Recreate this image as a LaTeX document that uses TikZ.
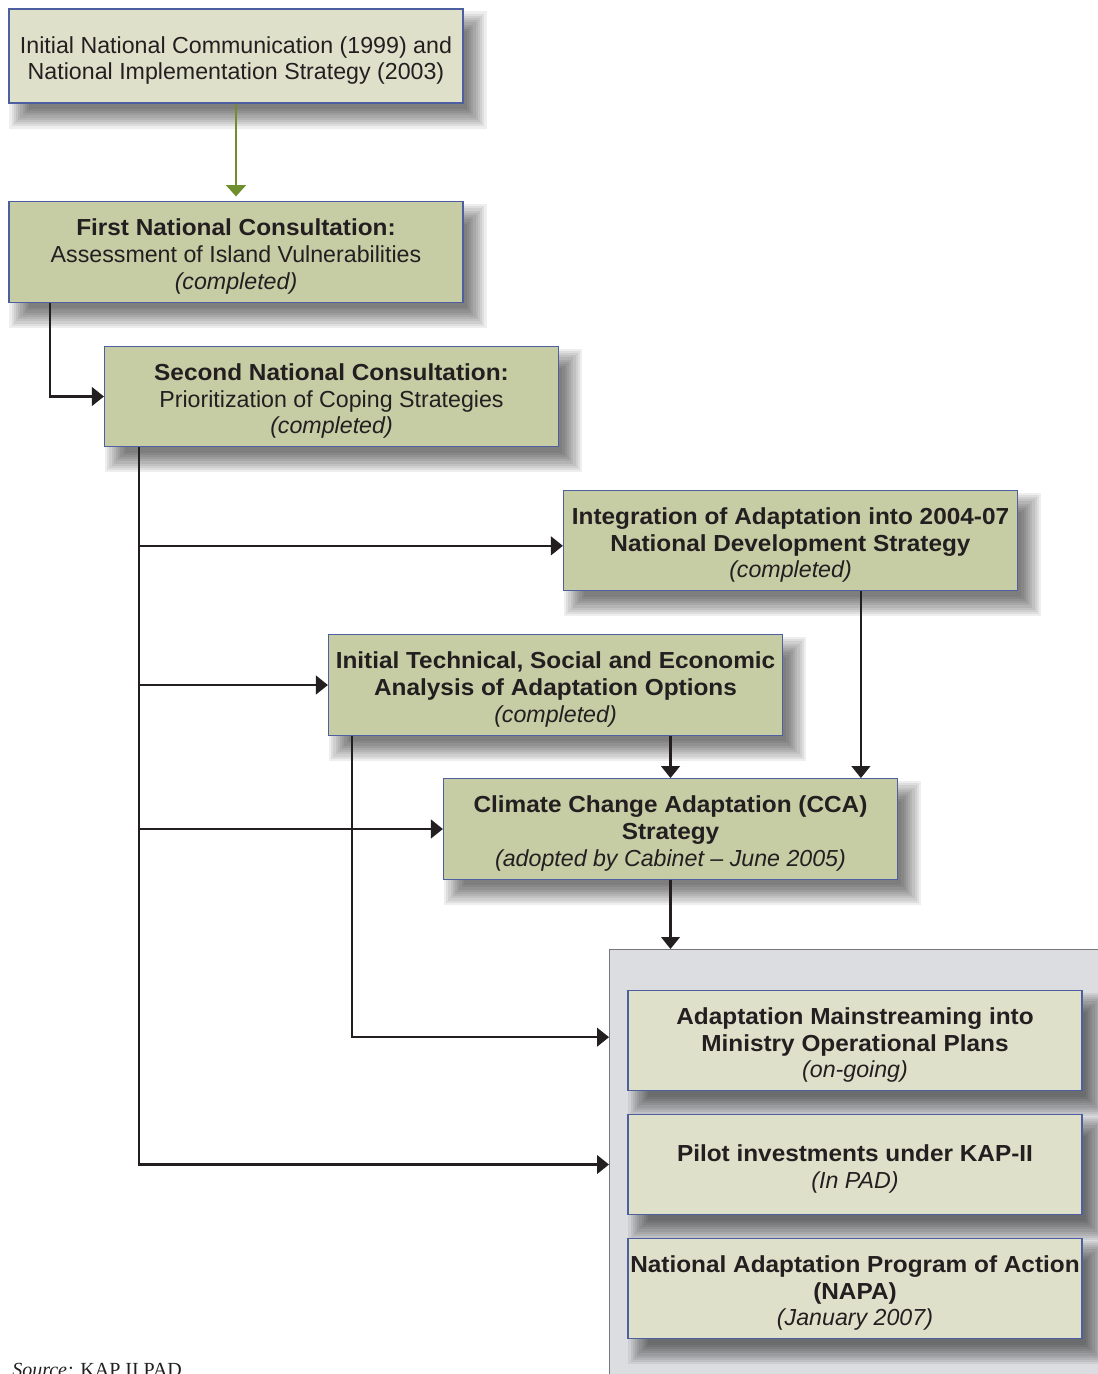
\documentclass[tikz,border=0pt]{standalone}
\usepackage{fontspec}
\setmainfont{Liberation Sans}[BoldFeatures={FakeStretch=1.05}]
\newfontfamily\srcfont{Liberation Serif}
\usetikzlibrary{arrows.meta,calc}
\definecolor{lightfill}{HTML}{DFE0CA}
\definecolor{darkfill}{HTML}{C6CCA4}
\definecolor{boxline}{HTML}{4D5FA0}
\definecolor{panelfill}{HTML}{DCDDE0}
\definecolor{panelline}{HTML}{777777}
\definecolor{greenline}{HTML}{6F8F2F}
\definecolor{inkc}{HTML}{231F20}
\pgfdeclarelayer{bottomlayer}
\pgfdeclarelayer{shadelayer}
\pgfsetlayers{bottomlayer,shadelayer,main}
\newcommand\boxshade[1]{%
  \foreach \k in {0,...,9}{%
    \pgfmathsetmacro\ee{11-2.2*\k}%
    \fill[black,opacity=0.065] ($(#1.south west)+(12-\ee,14+\ee)$) rectangle ($(#1.north east)+(12+\ee,14-\ee)$);}}
\newcommand\fl{\rule{0pt}{19.5pt}}
\tikzset{
  basebox/.style={draw=boxline, line width=0.9pt, minimum width=340.5pt, minimum height=75.5pt,
    inner sep=0pt, align=center, text=inkc, font=\fontsize{17.4}{20}\selectfont},
  lightbox/.style={basebox, fill=lightfill},
  darkbox/.style={basebox, fill=darkfill},
  panelbox/.style={draw=panelline, line width=0.9pt, fill=panelfill, anchor=north west,
    minimum width=400pt, minimum height=340pt, inner sep=0pt},
  blk/.style={draw=inkc, line width=1.6pt, -{Triangle[length=9pt,width=14pt]}},
  grn/.style={draw=greenline, line width=1.5pt, -{Triangle[length=8.5pt,width=15pt]}, shorten >=3.5pt}
}
\begin{document}
\begin{tikzpicture}[x=0.75pt,y=-0.75pt]
\useasboundingbox (0,0) rectangle (1097,1374);
\begin{pgfonlayer}{bottomlayer}
\fill[white] (0,0) rectangle (1097,1374);
\node[panelbox] (panel) at (609,949) {};
\end{pgfonlayer}

\node[lightbox, minimum height=70.5pt] (init) at (236,56)
  {\fl Initial National Communication (1999) and\\National Implementation Strategy (2003)};
\node[darkbox] (first) at (236,252)
  {\fl\textbf{First National Consultation:}\\Assessment of Island Vulnerabilities\\\textit{(completed)}};
\node[darkbox] (second) at (331.5,396.5)
  {\fl\textbf{Second National Consultation:}\\Prioritization of Coping Strategies\\\textit{(completed)}};
\node[darkbox] (integ) at (790.5,540.5)
  {\fl\textbf{Integration of Adaptation into 2004-07}\\\textbf{National Development Strategy}\\\textit{(completed)}};
\node[darkbox] (tech) at (555.5,685)
  {\fl\textbf{Initial Technical, Social and Economic}\\\textbf{Analysis of Adaptation Options}\\\textit{(completed)}};
\node[darkbox] (cca) at (670.5,829)
  {\fl\textbf{Climate Change Adaptation (CCA)}\\\textbf{Strategy}\\\textit{(adopted by Cabinet – June 2005)}};
\node[lightbox] (mainst) at (855,1040.5)
  {\fl\textbf{Adaptation Mainstreaming into}\\\textbf{Ministry Operational Plans}\\\textit{(on-going)}};
\node[lightbox] (pilot) at (855,1164.5)
  {\fl\textbf{Pilot investments under KAP-II}\\\textit{(In PAD)}};
\node[lightbox] (napa) at (855,1288.5)
  {\fl\textbf{National Adaptation Program of Action}\\\textbf{(NAPA)}\\\textit{(January 2007)}};

\begin{pgfonlayer}{shadelayer}
\boxshade{init}\boxshade{first}\boxshade{second}\boxshade{integ}\boxshade{tech}
\boxshade{cca}\boxshade{mainst}\boxshade{pilot}\boxshade{napa}
\end{pgfonlayer}

\node[anchor=base west, inner sep=0pt, text=inkc, font=\srcfont\fontsize{15}{17}\selectfont] (src) at (12,1376)
  {\textit{Source:} KAP II PAD};

% connectors
\draw[grn] (init.south) -- (first.north);
\draw[blk] ($(first.south west)+(42,0)$) |- (second.west);
\coordinate (trunk) at ($(second.south west)+(35,0)$);
\draw[blk] (trunk) |- ([yshift=-4pt]integ.west);
\draw[blk] (trunk) |- (tech.west);
\draw[blk] (trunk) |- (cca.west);
\draw[blk] (trunk) |- (panel.west |- pilot.west);
\draw[blk] ($(integ.south west)+(298,0)$) -- ($(cca.north west)+(418,0)$);
\draw[blk] (tech.south -| cca.north) -- (cca.north);
\draw[blk] ($(tech.south west)+(24,0)$) |- ([yshift=2.5pt]panel.west |- mainst.west);
\draw[blk] (cca.south) -- (cca.south |- panel.north);
\end{tikzpicture}
\end{document}
